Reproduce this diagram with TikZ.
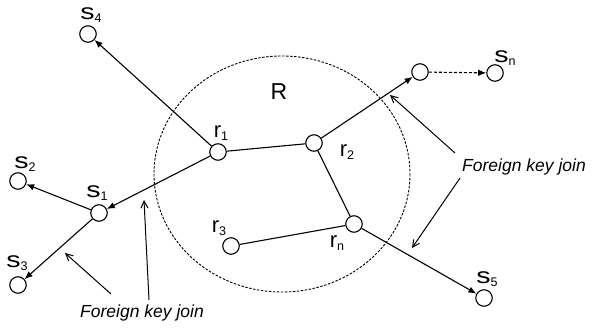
\documentclass[tikz,border=0pt]{standalone}
\usepackage{fontspec}
\usepackage{graphicx}
\setmainfont{Liberation Sans}
\usetikzlibrary{arrows.meta}
\newcommand{\lbl}[2]{#1\raisebox{-0.3ex}{\fontsize{12.5}{13}\selectfont #2}}
\newcommand{\wideS}{\scalebox{1.3}[1]{s}}
\begin{document}
\begin{tikzpicture}[x=1pt,y=-1pt,
  rel/.style={circle,draw,line width=1.1pt,minimum size=16.5pt,inner sep=0pt,fill=white},
  lab/.style={font=\fontsize{22}{24}\selectfont,inner sep=0pt},
  note/.style={font=\fontsize{17.5}{20}\selectfont\itshape,inner sep=0pt},
  edge/.style={line width=1.1pt},
  fk/.style={line width=1.1pt,-{Latex[length=8pt,width=6.5pt]}},
  ann/.style={line width=1pt,-{Straight Barb[length=7pt,width=7pt]}}]
\useasboundingbox (0,0) rectangle (593,328);
% region R
\draw[line width=0.9pt,dash pattern=on 2.5pt off 1.5pt] (282,174) ellipse [x radius=128, y radius=118];
\node[font=\fontsize{23}{24}\selectfont,inner sep=0pt] (R) at (279,92) {R};
% nodes
\node[rel] (r1) at (218,152) {};
\node[rel] (r2) at (314,143) {};
\node[rel] (r3) at (231,246) {};
\node[rel] (rn) at (354,224) {};
\node[rel] (t) at (420,72) {};
\node[rel] (sn) at (495,73) {};
\node[rel] (s4) at (88,34) {};
\node[rel] (s1) at (99,213) {};
\node[rel] (s2) at (18,181) {};
\node[rel] (s3) at (18,285) {};
\node[rel] (s5) at (484,298) {};
% labels
\node[lab] (ls4) at (91,15) {\lbl{\wideS}{4}};
\node[lab] (lsn) at (505,58) {\lbl{\wideS}{n}};
\node[lab] (ls2) at (25,164) {\lbl{\wideS}{2}};
\node[lab] (ls1) at (97,193) {\lbl{\wideS}{1}};
\node[lab] (ls3) at (17,263) {\lbl{\wideS}{3}};
\node[lab] (ls5) at (487,279) {\lbl{\wideS}{5}};
\node[lab] (lr1) at (221,133) {\lbl{r}{1}};
\node[lab] (lr2) at (347,152) {\lbl{r}{2}};
\node[lab] (lr3) at (219,228) {\lbl{r}{3}};
\node[lab] (lrn) at (337,243) {\lbl{r}{n}};
% connectors
\draw[edge] (r1) -- (r2);
\draw[edge] (r2) -- (rn);
\draw[edge] (r3) -- (rn);
\draw[fk] (r1) -- (s4);
\draw[fk] (r1) -- (s1);
\draw[fk] (s1) -- (s2);
\draw[fk] (s1) -- (s3);
\draw[fk] (r2) -- (t);
\draw[fk,dash pattern=on 3pt off 2pt] (t) -- (sn);
\draw[fk] (rn) -- (s5);
% annotations
\node[note] (fb) at (142,313) {Foreign key join};
\node[note] (fr) at (524,167) {Foreign key join};
\coordinate (a1s) at (111,294);
\coordinate (a1e) at (65,253);
\coordinate (a2s) at (149,300);
\coordinate (a2e) at (144,200);
\coordinate (a3s) at (455,153);
\coordinate (a3e) at (390,95);
\coordinate (a4s) at (460,178);
\coordinate (a4e) at (412,248);
\draw[ann] (a1s) -- (a1e);
\draw[ann] (a2s) -- (a2e);
\draw[ann] (a3s) -- (a3e);
\draw[ann] (a4s) -- (a4e);
\end{tikzpicture}
\end{document}
